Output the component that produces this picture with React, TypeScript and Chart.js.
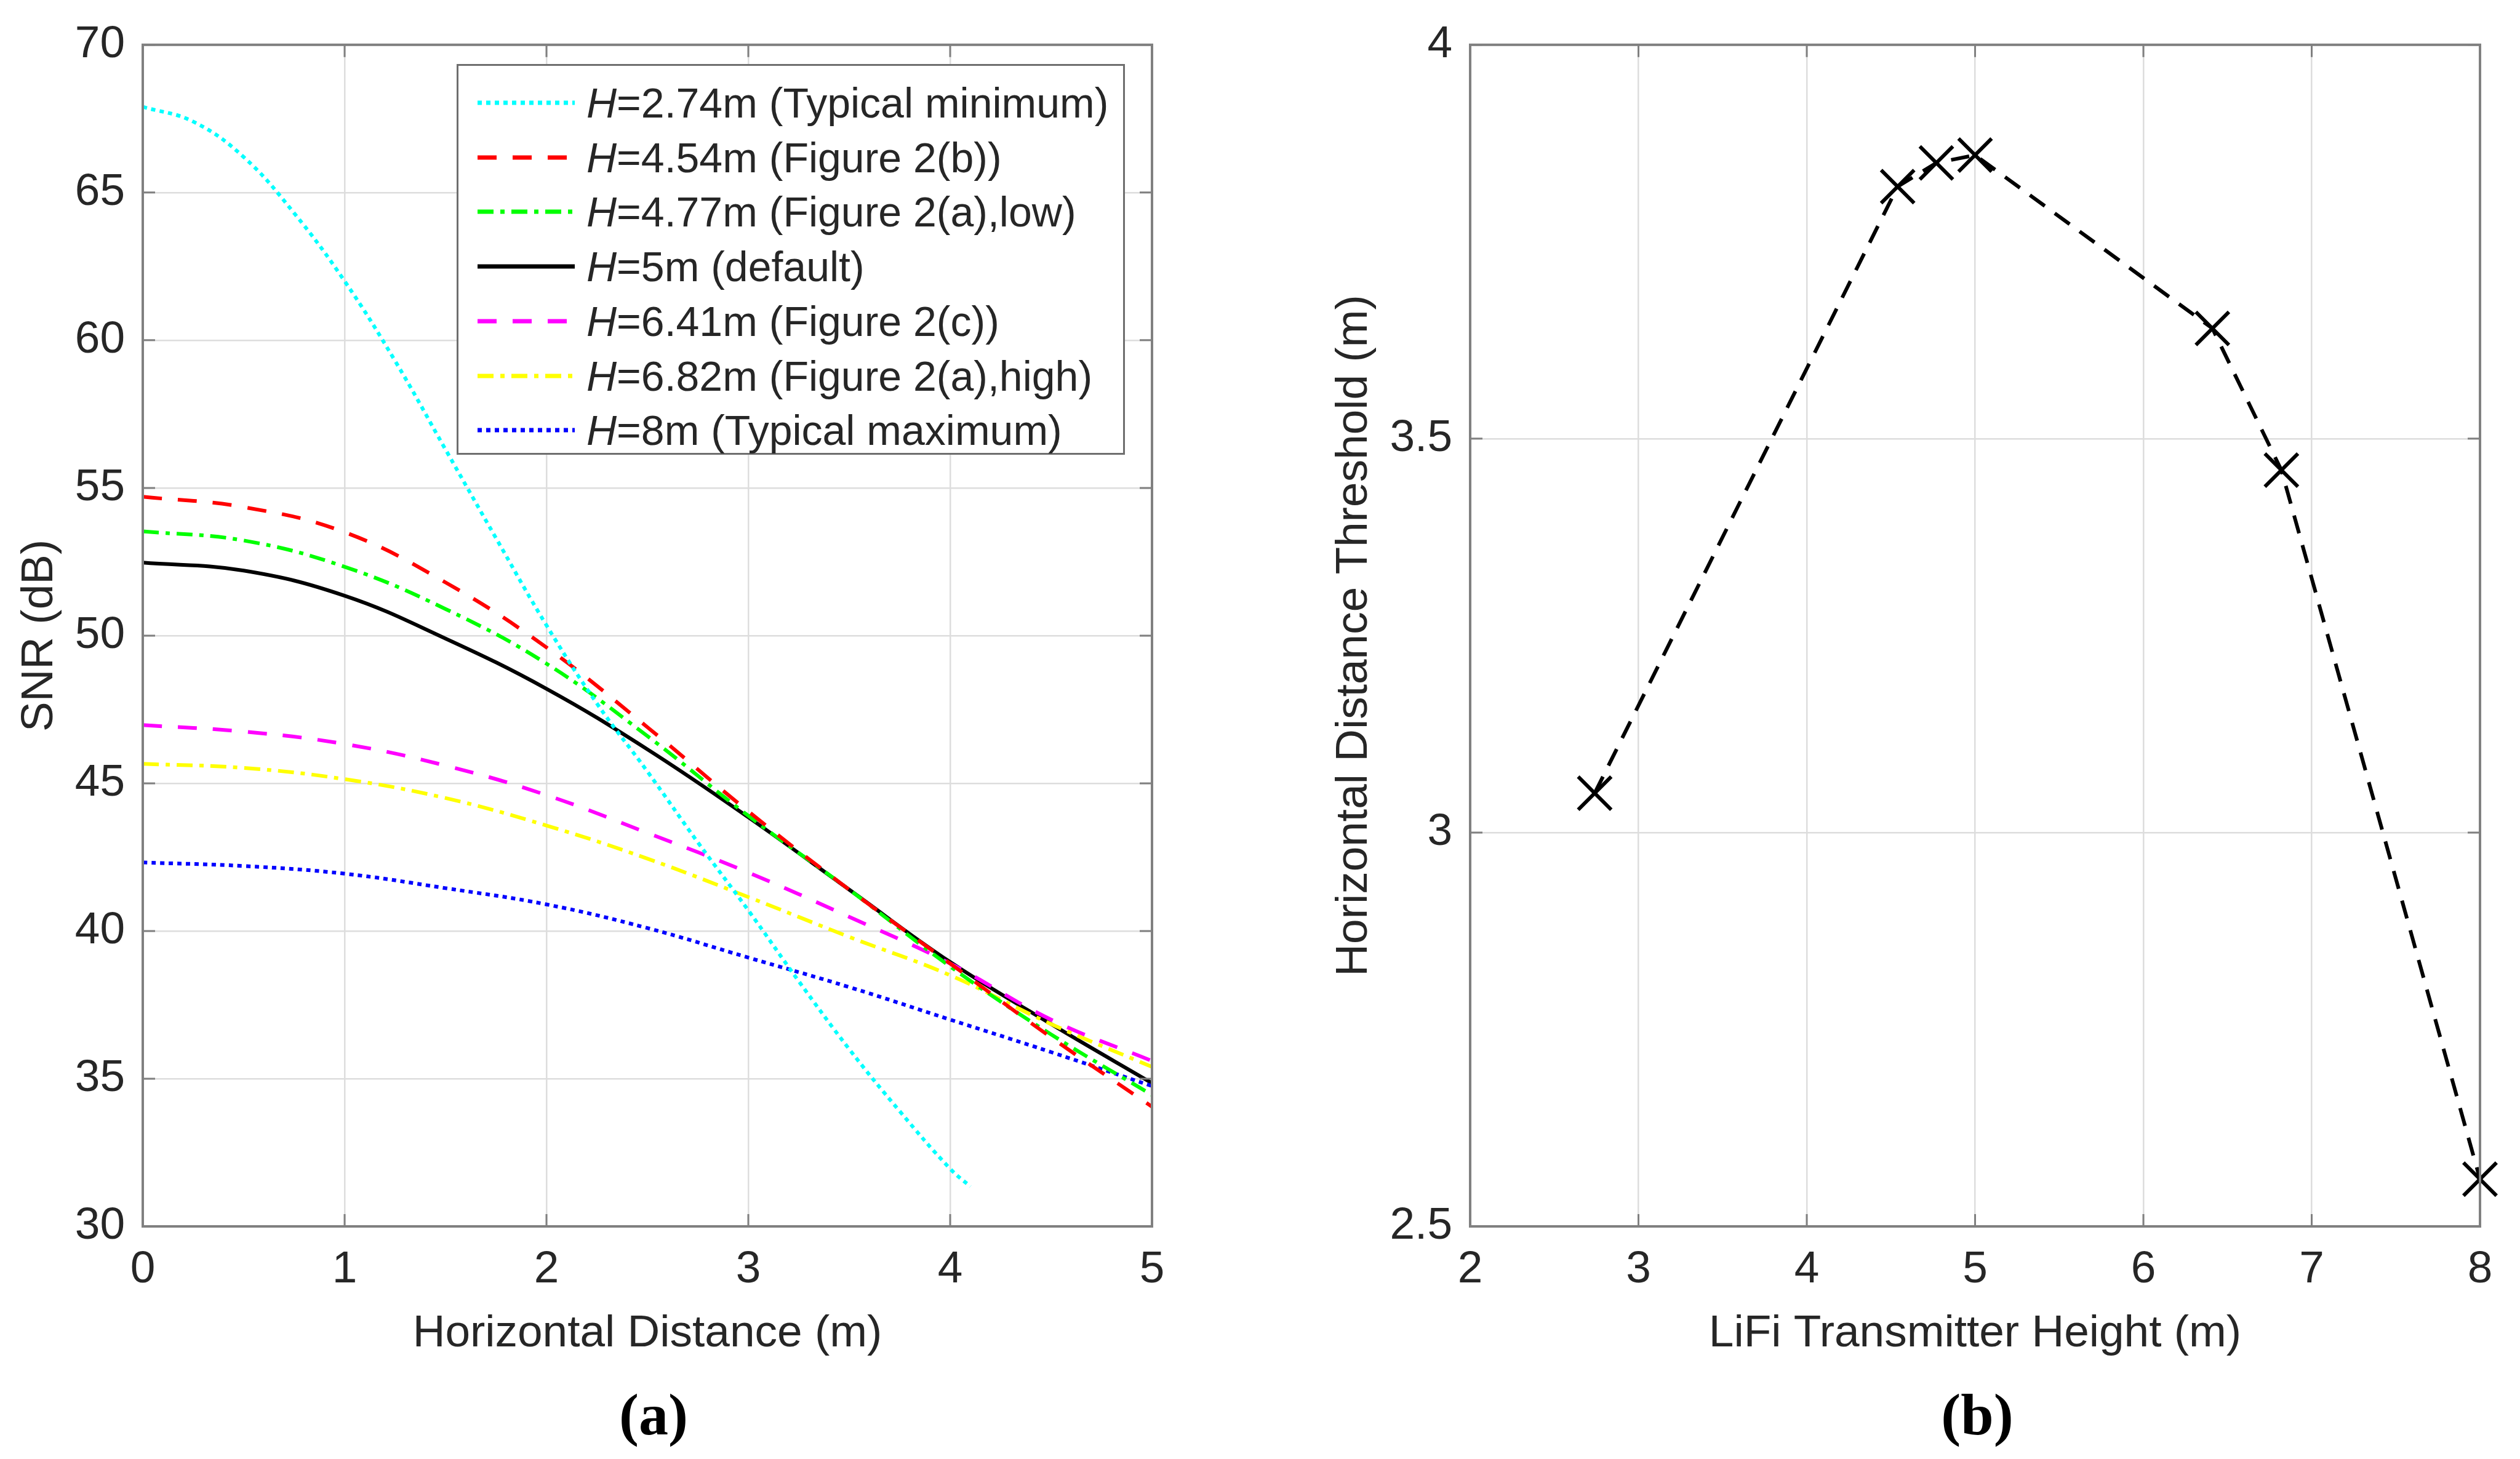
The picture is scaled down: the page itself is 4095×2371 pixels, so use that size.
import { Chart, registerables } from 'chart.js';
import { useEffect, useRef } from 'react';

Chart.register(...registerables);

// (a) SNR vs horizontal distance, one curve per transmitter height
const distanceX = [0, 0.5, 1, 1.5, 2, 2.5, 3, 3.5, 4, 4.5, 5];
const distanceCyanX = [0, 0.25, 0.5, 0.75, 1, 1.25, 1.5, 1.75, 2, 2.25, 2.5, 2.75, 3, 3.25, 3.5, 3.75, 4, 4.1];
const snrH274 = [67.9, 67.4, 66.2, 64.3, 62.0, 59.3, 56.3, 53.3, 50.35, 47.7, 45.4, 43.0, 40.7, 38.3, 36.0, 33.9, 31.95, 31.35];
const snrH454 = [54.7, 54.35, 53.5, 51.8, 49.6, 46.9, 44.05, 41.4, 38.9, 36.4, 34.05];
const snrH477 = [53.53, 53.22, 52.33, 50.9, 49.05, 46.6, 43.9, 41.4, 38.8, 36.5, 34.45];
const snrH500 = [52.47, 52.2, 51.35, 49.9, 48.2, 46.15, 43.85, 41.4, 38.95, 36.85, 34.85];
const snrH641 = [46.97, 46.75, 46.33, 45.6, 44.6, 43.32, 41.98, 40.48, 38.9, 37.0, 35.6];
const snrH682 = [45.66, 45.52, 45.14, 44.5, 43.57, 42.45, 41.15, 39.8, 38.5, 36.85, 35.4];
const snrH800 = [42.32, 42.2, 41.94, 41.45, 40.9, 40.1, 39.1, 38.1, 37.0, 35.9, 34.75];

const heightLabels = ['2.74', '4.54', '4.77', '5', '6.41', '6.82', '8'];
const heightNotes = ['Typical minimum', 'Figure 2(b)', 'Figure 2(a),low', 'default', 'Figure 2(c)', 'Figure 2(a),high', 'Typical maximum'];

// (b) threshold vs transmitter height
const txHeight = [2.74, 4.54, 4.77, 5, 6.41, 6.82, 8];
const threshold = [3.05, 3.82, 3.85, 3.86, 3.64, 3.46, 2.56];

const lineColors = ['#00ffff', '#ff0000', '#00ff00', '#000000', '#ff00ff', '#ffff00', '#0000ff'];
const lineDashes = [[7, 7], [31, 26], [26, 11, 7, 11], [], [31, 26], [26, 11, 7, 11], [7, 7]];

const FONT = "'Liberation Sans', Arial, sans-serif";
const TEXT = '#262626';
const GRID = '#dddddd';
const AXIS = '#808080';

const boxPlugin = {
    id: 'matlabBox',
    afterDraw(chart: any) {
        const { ctx, chartArea: a, scales } = chart;
        ctx.save();
        ctx.strokeStyle = AXIS;
        ctx.lineWidth = 4;
        ctx.strokeRect(a.left, a.top, a.right - a.left, a.bottom - a.top);
        const L = 20;
        ctx.lineWidth = 3;
        ctx.beginPath();
        scales.x.ticks.forEach((t: any) => {
            const px = scales.x.getPixelForValue(t.value);
            ctx.moveTo(px, a.bottom); ctx.lineTo(px, a.bottom - L);
            ctx.moveTo(px, a.top); ctx.lineTo(px, a.top + L);
        });
        scales.y.ticks.forEach((t: any) => {
            const py = scales.y.getPixelForValue(t.value);
            ctx.moveTo(a.left, py); ctx.lineTo(a.left + L, py);
            ctx.moveTo(a.right, py); ctx.lineTo(a.right - L, py);
        });
        ctx.stroke();
        ctx.restore();
    }
};

function axis(min: number, max: number, step: number, title: string, horizontal: boolean, size: number, titlePad: number, tickPad: number) {
    return {
        type: 'linear',
        min, max,
        ticks: {
            stepSize: step, font: { family: FONT, size: 73 }, color: TEXT, padding: tickPad,
            callback: (v: number) => String(v)
        },
        grid: { color: GRID, lineWidth: 2.5, drawTicks: false },
        border: { display: false },
        title: {
            display: true, text: title, color: TEXT,
            font: { family: FONT, size: 73 },
            padding: horizontal ? { top: 0, bottom: titlePad } : { top: titlePad, bottom: 0 }
        },
        afterFit: (s: any) => {
            if (horizontal) s.height = size; else s.width = size;
        }
    };
}

function ChartCanvas({ config, width, height }: { config: () => any, width: number, height: number }) {
    const canvasRef = useRef<HTMLCanvasElement>(null);
    useEffect(() => {
        if (!canvasRef.current) return;
        const chart = new Chart(canvasRef.current, config());
        return () => chart.destroy();
    }, []);
    return <canvas ref={canvasRef} width={width} height={height} style={{ width, height, display: 'block' }} />;
}

const snrSeries = [snrH274, snrH454, snrH477, snrH500, snrH641, snrH682, snrH800];

function snrConfig() {
    const datasets = snrSeries.map((vals, i) => {
        const xs = i === 0 ? distanceCyanX : distanceX;
        return {
            label: 'H=' + heightLabels[i] + 'm (' + heightNotes[i] + ')',
            data: xs.map((x, j) => ({ x, y: vals[j] })),
            borderColor: lineColors[i],
            borderWidth: 6,
            borderDash: lineDashes[i],
            borderCapStyle: 'butt',
            tension: 0.4,
            pointRadius: 0,
            fill: false
        };
    });
    // black solid curve drawn last, as in the original
    const order = [0, 1, 2, 4, 5, 6, 3];
    return {
        type: 'line',
        data: { datasets: order.map(i => datasets[i]) },
        options: {
            animation: false,
            responsive: false,
            layout: { padding: { left: 0, top: 63, right: 128, bottom: 0 } },
            plugins: { legend: { display: false }, tooltip: { enabled: false } },
            scales: {
                x: axis(0, 5, 1, 'Horizontal Distance (m)', true, 247, 28, 27),
                y: axis(30, 70, 5, 'SNR (dB)', false, 232, 21, 29)
            }
        },
        plugins: [boxPlugin]
    };
}

function thresholdConfig() {
    return {
        type: 'line',
        data: {
            datasets: [{
                label: 'Threshold',
                data: txHeight.map((x, i) => ({ x, y: threshold[i] })),
                borderColor: '#000',
                borderWidth: 6,
                borderDash: [30, 20],
                borderCapStyle: 'butt',
                pointStyle: 'crossRot',
                pointRadius: 38,
                pointBorderWidth: 6,
                pointBorderColor: '#000',
                clip: false,
                fill: false
            }]
        },
        options: {
            animation: false,
            responsive: false,
            layout: { padding: { left: 0, top: 63, right: 65, bottom: 0 } },
            plugins: { legend: { display: false }, tooltip: { enabled: false } },
            scales: {
                x: axis(2, 8, 1, 'LiFi Transmitter Height (m)', true, 247, 28, 27),
                y: axis(2.5, 4, 0.5, 'Horizontal Distance Threshold (m)', false, 389, 157, 29)
            }
        },
        plugins: [boxPlugin]
    };
}

function LegendSample({ color, dash }: { color: string, dash: number[] }) {
    return (
        <svg width={160} height={20} style={{ position: 'absolute', left: 31, top: -10 }}>
            <line x1={0} y1={10} x2={158} y2={10} stroke={color} strokeWidth={7}
                strokeDasharray={dash.length ? dash.join(' ') : undefined} />
        </svg>
    );
}

function SnrLegend() {
    return (
        <div style={{
            position: 'absolute', left: 742, top: 104, width: 1086, height: 635,
            border: '3px solid #6e6e6e', background: '#fff', boxSizing: 'border-box'
        }}>
            {heightLabels.map((h, i) => (
                <div key={i} style={{ position: 'absolute', left: 0, top: 60 + i * 88.7, height: 0 }}>
                    <LegendSample color={lineColors[i]} dash={lineDashes[i]} />
                    <div style={{
                        position: 'absolute', left: 208, top: -42, whiteSpace: 'nowrap',
                        font: `68px ${FONT}`, color: TEXT, lineHeight: '84px'
                    }}>
                        <i>H</i>={h}m ({heightNotes[i]})
                    </div>
                </div>
            ))}
        </div>
    );
}

const captionStyle: any = {
    position: 'absolute', top: 2298, transform: 'translate(-50%, -50%)',
    font: "bold 96px 'Liberation Serif', 'Times New Roman', serif", color: '#000', whiteSpace: 'nowrap'
};

export default function App() {
    return (
        <div style={{ position: 'absolute', left: 0, top: 0, width: 4095, height: 2371, background: '#fff', overflow: 'hidden' }}>
            <div style={{ position: 'absolute', left: 0, top: 0 }}>
                <ChartCanvas config={snrConfig} width={2000} height={2240} />
            </div>
            <SnrLegend />
            <div style={{ position: 'absolute', left: 2000, top: 0 }}>
                <ChartCanvas config={thresholdConfig} width={2095} height={2240} />
            </div>
            <div style={{ ...captionStyle, left: 1062 }}>(a)</div>
            <div style={{ ...captionStyle, left: 3213 }}>(b)</div>
        </div>
    );
}
